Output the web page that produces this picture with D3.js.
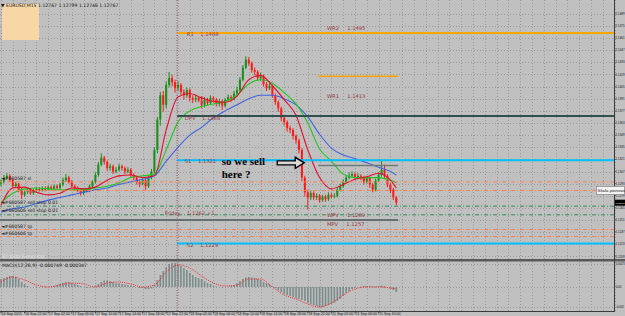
<!DOCTYPE html>
<html lang="en">
<head>
<meta charset="utf-8">
<title>EURUSD,M15</title>
<script src="https://d3js.org/d3.v7.min.js"></script>
<style>
  html, body { margin: 0; padding: 0; background: #c0c0c0; }
  svg { display: block; font-family: "DejaVu Sans", sans-serif; }
</style>
</head>
<body>
<svg id="chart" width="625" height="316"></svg>
<script>
// prices are in pips above 1.1200 (EURUSD = 1.1200 + pips / 10000)
const firstOpen = 93;
const closes = [95,100,102,97,90,93,86,80,83,86, 82,85,87,86,88,86,89,87,90,88,
  92,97,100,95,90,88,86,82,86,85, 90,95,103,115,123,118,111,113,107,109,
  113,111,107,109,103,100,95,93,97,90, 100,107,132,167,195,184,207,215,210,203,
  207,199,195,201,192,190,192,189, 184,190,186,192,190,185,188,183,190,193,
  191,197,201,213,227,236,232,224,222,215, 217,208,203,206,195,187,180,169,164,157,
  155,148,143,132,100,83,77,82,77,79, 74,78,75,80,78,
  79,86,90,95,100,102,104,100,102,100, 95,100,92,86,97,103,109,102,92,86, 77,71];
const highs = [98,103,105,104,99,95,94,88,85,88, 88,87,89,89,90,90,91,91,92,92,
  94,100,104,102,97,92,90,88,88,88, 92,97,106,118,128,125,120,116,115,112,
  116,115,113,112,111,105,102,97,99,99, 102,110,135,170,199,200,211,222,219,213,
  211,209,202,204,203,195,196,194, 194,193,192,195,194,192,191,190,192,196,
  195,200,205,216,230,240,239,234,227,224, 221,219,210,209,207,197,189,182,171,166,
  160,157,150,145,134,102,86,85,84,82, 81,80,80,83,82,
  82,89,93,98,103,106,107,106,105,104, 102,102,101,94,99,106,120,115,104,94, 88,79];
const lows = [90,93,98,95,88,88,83,75,78,81, 80,80,83,84,84,84,85,85,85,86,
  86,90,95,93,88,85,83,79,80,83, 83,88,93,101,113,115,108,108,104,105,
  107,108,104,105,100,97,92,89,91,86, 88,98,105,128,160,176,180,204,205,198,
  200,195,190,192,188,186,187,187, 180,181,183,184,187,182,182,178,181,188,
  188,189,195,199,211,225,229,221,218,212, 212,205,200,201,192,184,176,165,160,153,
  151,144,139,128,96,78,63,74,74,74, 71,72,72,73,76,
  76,77,84,88,93,98,100,97,98,97, 92,93,88,83,84,95,101,99,89,82, 74,68];

// moving averages, read at these bar positions
const maAt = [0,4,8,12,16,20,24,28,32,36,40,44,48,52,56,60,64,68,72,76,80,84,88,92,96,100,104,108,112,116,120,124,128,132,134];
const maFast = [68,88,89,83,80,82,88,87,89,97,102,103,100,102,155,193,197,192,188,187,194,213,218,206,190,172,132,100,87,92,98,101,105,97,88];
const maMid  = [71,82,87,88,87,86,86,86,88,90,94,100,102,104,132,164,177,182,185,188,195,208,213,209,198,185,163,133,119,104,100,100,100,97,94];
const maSlow = [60,64,66,70,74,77,80,83,86,88,92,95,98,102,119,135,149,158,169,177,184,191,195,195,191,184,170,150,134,126,122,117,112,107,103];

// MACD(12,26,9) in units of 0.00001
const macdHist = [80,90,100,110,110,100,80,50,30, 10,0,0,-5,0,5,5,0,5,10,
  20,30,40,50,50,40,30,20,10, 0,-10,-5,0,15, 30,50,65,65,60,50,40,35,30,25,
  20,15,10,0,-10,-10,-20,-20,-15,20,70, 120,160,200,230,240,240,230,210,190,170,140,120,
  100,90,80,60,40,30,15,5, 0,-5,0,5,10,20,40, 60,80,95,100,95,90,80,70,50,40,30,10,
  -10,-30,-50,-70,-80,-90,-100,-110,-120, -130,-140,-160,-170,-180,-190,-200,-200,-190,-180,-170,
  -160,-140,-120,-90,-60,-40,-20,-10,0, 5,10,10,10,5,5,10,15,10,0,-15,-30,-50];
const macdSignal = [50,100,70,20,0,20,40,30,0,40,50,30,0,20,150,220,190,110,40,10,20,80,80,0,-80,-120,-170,-200,-160,-80,-20,0,0,-10,-20];

const timeLabels = ["16 Sep 2015","16 Sep 22:00","17 Sep 02:00","17 Sep 06:00","17 Sep 10:00","17 Sep 14:00",
  "17 Sep 18:00","17 Sep 22:00","18 Sep 02:00","18 Sep 06:00","18 Sep 10:00","18 Sep 14:00",
  "18 Sep 18:00","18 Sep 22:00","21 Sep 02:00","21 Sep 06:00","21 Sep 10:00"];
const priceTicks = [1.1489,1.1475,1.1461,1.1447,1.1433,1.1419,1.1405,1.1391,1.1377,1.1363,1.1349,
  1.1335,1.1321,1.1307,1.1293,1.1279,1.1265,1.1251,1.1237,1.1223,1.1209];
const macdTicks = [{v: 230, t: "0.0023"}, {v: 0, t: "0.00"}, {v: -200, t: "-0.002"}];

// horizontal objects: level in pips, bar span
const levels = [
  {p: 267, from: 59.7, to: 210, color: "#ffa500", w: 2},
  {p: 217, from: 107.5, to: 134.6, color: "#ffa500", w: 1.5},
  {p: 171, from: 59.7, to: 210, color: "#2f4f4f", w: 2},
  {p: 120, from: 59.7, to: 210, color: "#00bfff", w: 2},
  {p: 114, from: 107.5, to: 134.6, color: "#6e7b7b", w: 1.5},
  {p: 95, from: -1, to: 210, color: "#ff7f50", w: 1, dash: "4,2,1,2"},
  {p: 85, from: -1, to: 210, color: "#ff7f50", w: 1, dash: "4,2,1,2"},
  {p: 67, from: -1, to: 210, color: "#2e8b57", w: 1, dash: "4,2,1,2"},
  {p: 57, from: -1, to: 210, color: "#2e8b57", w: 1, dash: "4,2,1,2"},
  {p: 51, from: -1, to: 134.6, color: "#4a5757", w: 1.5},
  {p: 40, from: -1, to: 210, color: "#ff7f50", w: 1, dash: "4,2,1,2"},
  {p: 32, from: -1, to: 210, color: "#ff7f50", w: 1, dash: "4,2,1,2"},
  {p: 24, from: 59.7, to: 210, color: "#00bfff", w: 2}
];
const levelLabels = [
  {i: 63, p: 264, t: "R1    1.1468"},
  {i: 110.5, p: 270, t: "WR2     1.1495"},
  {i: 110.5, p: 192, t: "WR1     1.1413"},
  {i: 62.3, p: 167, t: "DPV    1.1388"},
  {i: 62.3, p: 117, t: "S1    1.1321"},
  {i: 110.5, p: 55, t: "WPV     1.1269"},
  {i: 110.5, p: 44, t: "MPV     1.1257"},
  {i: 63, p: 20, t: "S2    1.1229"},
  {i: 55.5, p: 57, t: "Friday    1.1262 +1"}
];
const orderLabels = [
  {p: 97, t: "#660587 sl"},
  {p: 70, t: "#660587 sell stop 0.01"},
  {p: 60, t: "#660606 sell stop 0.01"},
  {p: 42, t: "#660587 tp"},
  {p: 34, t: "#660606 tp"}
];

const svg = d3.select("#chart");
const x = d3.scaleLinear().domain([0, 208]).range([1, 614.6]);
const y = d3.scaleLinear().domain([6, 305]).range([259, 0]);
const ym = d3.scaleLinear().domain([-215, 250]).range([308.5, 262]);
const plotR = 614.5;

svg.append("rect").attr("width", 625).attr("height", 316).attr("fill", "#c0c0c0");

const defs = svg.append("defs");
defs.append("clipPath").attr("id", "clipMain").append("rect").attr("x", 0).attr("y", 0).attr("width", plotR).attr("height", 259);
defs.append("clipPath").attr("id", "clipMacd").append("rect").attr("x", 0).attr("y", 262).attr("width", plotR).attr("height", 49);

// grid
const grid = svg.append("g").attr("stroke", "#9c9c9c").attr("stroke-width", 1).attr("stroke-dasharray", "1,2");
const vGrid = d3.range(0, 209, 4);
grid.selectAll("line.v").data(vGrid).enter().append("line")
  .attr("x1", d => Math.round(x(d)) + 0.5).attr("x2", d => Math.round(x(d)) + 0.5)
  .attr("y1", 0).attr("y2", 259);
grid.selectAll("line.vm").data(vGrid).enter().append("line")
  .attr("x1", d => Math.round(x(d)) + 0.5).attr("x2", d => Math.round(x(d)) + 0.5)
  .attr("y1", 262).attr("y2", 311);
grid.selectAll("line.h").data(priceTicks).enter().append("line")
  .attr("x1", 0).attr("x2", plotR)
  .attr("y1", d => Math.round(y((d - 1.12) * 1e4)) + 0.5).attr("y2", d => Math.round(y((d - 1.12) * 1e4)) + 0.5);
grid.selectAll("line.hm").data(macdTicks).enter().append("line")
  .attr("x1", 0).attr("x2", plotR)
  .attr("y1", d => Math.round(ym(d.v)) + 0.5).attr("y2", d => Math.round(ym(d.v)) + 0.5);

const main = svg.append("g").attr("clip-path", "url(#clipMain)");

// header box
main.append("rect").attr("x", 2).attr("y", 4).attr("width", 37).attr("height", 36).attr("fill", "#f8d7a6");
main.append("text").attr("x", 1).attr("y", 7).attr("font-size", 4.6).attr("fill", "#111")
  .text("\u25BC EURUSD,M15  1.12767 1.12799 1.12746 1.12767");

// candles
const bars = closes.map((c, i) => ({i, o: i ? closes[i - 1] : firstOpen, h: highs[i], l: lows[i], c}));
const cg = main.append("g");
cg.selectAll("line.wick").data(bars).enter().append("line")
  .attr("x1", d => x(d.i)).attr("x2", d => x(d.i))
  .attr("y1", d => y(d.h)).attr("y2", d => y(d.l))
  .attr("stroke", d => d.c >= d.o ? "#1c8c1c" : "#ff1a1a").attr("stroke-width", 1);
cg.selectAll("rect.body").data(bars).enter().append("rect")
  .attr("x", d => x(d.i) - 1).attr("width", 2)
  .attr("y", d => y(Math.max(d.o, d.c)))
  .attr("height", d => Math.max(0.8, Math.abs(y(d.o) - y(d.c))))
  .attr("fill", d => d.c >= d.o ? "#1c8c1c" : "#ff1a1a");

// moving averages
const maLine = d3.line().x(d => x(d[0])).y(d => y(d[1])).curve(d3.curveMonotoneX);
[[maSlow, "#3e64e0"], [maMid, "#22c522"], [maFast, "#e0102f"]].forEach(([vals, col]) => {
  main.append("path").datum(maAt.map((a, k) => [a, vals[k]]))
    .attr("d", maLine).attr("fill", "none").attr("stroke", col).attr("stroke-width", 1.1);
});

// separator for day
svg.append("line").attr("x1", x(59.7)).attr("x2", x(59.7)).attr("y1", 0).attr("y2", 311)
  .attr("stroke", "#8b4a5a").attr("stroke-width", 1).attr("stroke-dasharray", "1,1.5");

// levels
main.selectAll("line.lvl").data(levels).enter().append("line")
  .attr("x1", d => x(d.from)).attr("x2", d => Math.min(x(d.to), plotR))
  .attr("y1", d => y(d.p)).attr("y2", d => y(d.p))
  .attr("stroke", d => d.color).attr("stroke-width", d => d.w)
  .attr("stroke-dasharray", d => d.dash || null);

main.selectAll("text.lvl").data(levelLabels).enter().append("text")
  .attr("x", d => x(d.i)).attr("y", d => y(d.p))
  .attr("font-size", 5.2).attr("fill", "#9a3a40").attr("xml:space", "preserve")
  .style("white-space", "pre").text(d => d.t);

main.selectAll("text.ord").data(orderLabels).enter().append("text")
  .attr("x", 1).attr("y", d => y(d.p))
  .attr("font-size", 4.6).attr("fill", "#1a1a1a").text(d => "\u25C4" + d.t);

main.append("text").attr("x", 2).attr("y", 257.5).attr("font-size", 4.6).attr("fill", "#e8e8e8")
  .text("ST Data Generator");

// annotation
const tipX = x(102.8), tipY = y(117);
main.append("text").attr("x", x(74.8)).attr("y", y(114)).attr("font-family", "Liberation Serif")
  .attr("font-weight", "bold").attr("font-size", 11).attr("fill", "#000").text("so we sell");
main.append("text").attr("x", x(74.8)).attr("y", y(100)).attr("font-family", "Liberation Serif")
  .attr("font-weight", "bold").attr("font-size", 11).attr("fill", "#000").text("here ?");
const ar = d3.path();
ar.moveTo(tipX - 27, tipY - 2);
ar.lineTo(tipX - 9, tipY - 2);
ar.lineTo(tipX - 9, tipY - 5.5);
ar.lineTo(tipX, tipY);
ar.lineTo(tipX - 9, tipY + 5.5);
ar.lineTo(tipX - 9, tipY + 2);
ar.lineTo(tipX - 27, tipY + 2);
ar.closePath();
main.append("path").attr("d", ar.toString()).attr("fill", "#d8d8d8").attr("stroke", "#000").attr("stroke-width", 1.4);

// window separator
svg.append("rect").attr("x", 0).attr("y", 259).attr("width", 625).attr("height", 2.5).attr("fill", "#5a5a5a");

// MACD
const mg = svg.append("g").attr("clip-path", "url(#clipMacd)");
mg.selectAll("rect.hist").data(macdHist).enter().append("rect")
  .attr("x", (d, i) => x(i) - 0.8).attr("width", 1.6)
  .attr("y", d => ym(Math.max(0, d))).attr("height", d => Math.abs(ym(d) - ym(0)))
  .attr("fill", "#7d8c8c");
mg.append("path").datum(maAt.map((a, k) => [a, macdSignal[k]]))
  .attr("d", d3.line().x(d => x(d[0])).y(d => ym(d[1])).curve(d3.curveMonotoneX))
  .attr("fill", "none").attr("stroke", "#ff2020").attr("stroke-width", 1).attr("stroke-dasharray", "1,1.2");
mg.append("text").attr("x", 2).attr("y", 266.5).attr("font-size", 4.6).attr("fill", "#111")
  .text("MACD(12,26,9) -0.000749 -0.000347");

// frame and axes
svg.append("line").attr("x1", plotR).attr("x2", plotR).attr("y1", 0).attr("y2", 312)
  .attr("stroke", "#3a3a3a").attr("stroke-width", 1);
svg.append("line").attr("x1", 0).attr("x2", plotR).attr("y1", 311.5).attr("y2", 311.5)
  .attr("stroke", "#3a3a3a").attr("stroke-width", 1);

const ax = svg.append("g").attr("fill", "#111").attr("font-family", "Liberation Sans");
ax.selectAll("text.p").data(priceTicks).enter().append("text")
  .attr("x", plotR + 1.2).attr("y", d => y((d - 1.12) * 1e4) + 1.1)
  .attr("font-size", 2.9).text(d => d.toFixed(4));
ax.selectAll("line.p").data(priceTicks).enter().append("line")
  .attr("x1", plotR).attr("x2", plotR + 1).attr("y1", d => y((d - 1.12) * 1e4)).attr("y2", d => y((d - 1.12) * 1e4))
  .attr("stroke", "#3a3a3a");
ax.selectAll("text.m").data(macdTicks).enter().append("text")
  .attr("x", plotR + 1.2).attr("y", d => ym(d.v) + 1.1)
  .attr("font-size", 2.9).text(d => d.t);
ax.selectAll("text.t").data(timeLabels).enter().append("text")
  .attr("x", (d, k) => x(k * 8) + 0.5).attr("y", 315.3)
  .attr("font-size", 3.6).text(d => d);
ax.selectAll("line.t").data(timeLabels).enter().append("line")
  .attr("x1", (d, k) => x(k * 8)).attr("x2", (d, k) => x(k * 8)).attr("y1", 311.5).attr("y2", 313.5)
  .attr("stroke", "#3a3a3a");

// current price tag and tooltip
const lastP = closes[closes.length - 1];
svg.append("rect").attr("x", plotR + 0.5).attr("y", y(lastP) - 3).attr("width", 10).attr("height", 6).attr("fill", "#000");
svg.append("text").attr("x", plotR + 1).attr("y", y(lastP) + 1.1).attr("font-size", 2.5)
  .attr("font-family", "Liberation Sans").attr("fill", "#fff")
  .text((1.12 + lastP / 1e4 + 0.00007).toFixed(5));
svg.append("rect").attr("x", 596.5).attr("y", 186.5).attr("width", 28).attr("height", 8)
  .attr("fill", "#f4f4f4").attr("stroke", "#777").attr("stroke-width", 0.6);
svg.append("text").attr("x", 597.5).attr("y", 192.2).attr("font-size", 4.4).attr("font-family", "Liberation Sans")
  .attr("fill", "#222").text("Skala pionowa");
</script>
</body>
</html>
